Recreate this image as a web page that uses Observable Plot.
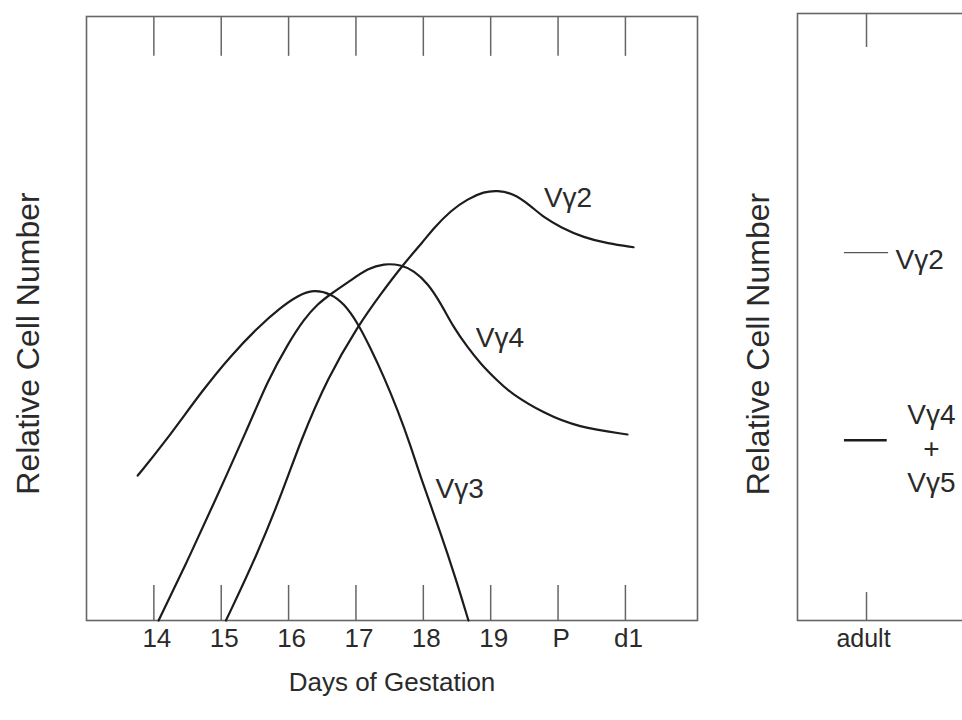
<!DOCTYPE html>
<html><head><meta charset="utf-8">
<script src="https://cdn.jsdelivr.net/npm/d3@7"></script>
<script src="https://cdn.jsdelivr.net/npm/@observablehq/plot@0.6"></script>
<style>
html,body{margin:0;padding:0;background:#fff;overflow:hidden;}
#wrap{position:relative;width:962px;height:720px;overflow:hidden;background:#fff;}
#left,#right{position:absolute;top:0;height:720px;}
#left{left:0;width:720px;}
#right{left:720px;width:400px;}
#wrap svg{max-width:none !important;}
</style></head>
<body><div id="wrap"><div id="left"></div><div id="right"></div></div>
<script>
// ---- data ----
const dayTicks = [14, 15, 16, 17, 18, 19, 20, 21];
const dayTickLabels = ["14", "15", "16", "17", "18", "19", "P", "d1"];

const vg3Day = [13.76, 14.15, 14.74, 15.14, 15.54, 15.88, 16.14, 16.37, 16.63, 16.82, 17.03, 17.22, 17.41, 17.62, 17.81, 17.96, 18.26, 18.48, 18.67];
const vg3Value = [24.0, 29.3, 38.4, 43.8, 48.5, 51.8, 53.8, 54.8, 54.1, 52.5, 49.2, 45.0, 40.5, 34.8, 29.0, 23.7, 14.4, 7.0, 0];

const vg4Day = [14.07, 14.50, 14.89, 15.40, 15.69, 15.99, 16.23, 16.43, 16.63, 16.92, 17.18, 17.41, 17.67, 17.86, 18.07, 18.26, 18.45, 18.66, 18.85, 19.10, 19.30, 19.79, 20.29, 21.03];
const vg4Value = [0, 9.9, 19.4, 32.0, 39.7, 45.8, 49.9, 52.4, 54.1, 56.3, 58.3, 59.1, 58.9, 57.9, 55.8, 52.5, 48.5, 45.2, 42.5, 39.7, 37.6, 34.3, 32.0, 30.8];

const vg2Day = [15.07, 15.53, 15.93, 16.18, 16.58, 17.03, 17.37, 17.69, 18.01, 18.15, 18.41, 18.66, 18.90, 19.10, 19.34, 19.59, 19.79, 20.04, 20.38, 20.74, 21.12];
const vg2Value = [0, 10.8, 21.9, 29.8, 40.2, 48.8, 54.1, 58.8, 62.9, 64.9, 67.9, 69.8, 71.0, 71.2, 70.7, 68.7, 66.7, 65.1, 63.4, 62.4, 61.8];

const curveNames = ["Vγ2", "Vγ4", "Vγ3"];
const curveLabelDay = [19.79, 18.78, 18.18];
const curveLabelValue = [69.9, 46.7, 21.7];

const adultCategories = ["adult"];
const adultNames = ["Vγ2", "Vγ4\n+\nVγ5"];
const adultValues = [60.6, 29.7];

const yTitle = "Relative Cell Number";
const xTitle = "Days of Gestation";

// ---- build tables ----
const rows = [];
[["Vγ2", vg2Day, vg2Value], ["Vγ4", vg4Day, vg4Value], ["Vγ3", vg3Day, vg3Value]].forEach(([name, xs, ys]) => {
  xs.forEach((d, i) => rows.push({series: name, day: d, value: ys[i]}));
});
const curveLabels = curveNames.map((n, i) => ({name: n, day: curveLabelDay[i], value: curveLabelValue[i]}));
const adultPos = adultCategories.map((c, i) => i + 1);

const FONT = "'Liberation Sans', Arial, Helvetica, sans-serif";
const INK = "#1c1c1c";
const AXIS = "#666";
const TEXT = "#2a2a2a";

const left = Plot.plot({
  width: 720, height: 720,
  marginLeft: 86, marginRight: 23, marginTop: 16, marginBottom: 100,
  style: {fontFamily: FONT, background: "transparent", color: TEXT, maxWidth: "none"},
  x: {domain: [13, 22.07], axis: null},
  y: {domain: [0, 100], axis: null},
  marks: [
    Plot.frame({stroke: AXIS, strokeWidth: 1.6}),
    Plot.ruleX(dayTicks, {x: d => d, y1: 0, y2: 5.8, stroke: AXIS, strokeWidth: 1.5}),
    Plot.ruleX(dayTicks, {x: d => d, y1: 100, y2: 93.4, stroke: AXIS, strokeWidth: 1.5}),
    Plot.text(dayTicks, {x: d => d, text: (d, i) => dayTickLabels[i], frameAnchor: "bottom", dy: 26, dx: 3, fontSize: 26, fill: TEXT}),
    Plot.line(rows, {x: "day", y: "value", z: "series", curve: "basis", stroke: INK, strokeWidth: 2.2}),
    Plot.text(curveLabels, {x: "day", y: "value", text: "name", textAnchor: "start", fontSize: 28, fill: TEXT}),
    Plot.text([xTitle], {frameAnchor: "bottom", textAnchor: "middle", dy: 70, fontSize: 26, fill: TEXT}),
    Plot.text([yTitle], {frameAnchor: "left", textAnchor: "middle", dx: -58, dy: 25, rotate: -90, fontSize: 32, fill: TEXT})
  ]
});
document.getElementById("left").appendChild(left);

const right = Plot.plot({
  width: 400, height: 720,
  marginLeft: 77, marginRight: 0, marginTop: 13, marginBottom: 100,
  style: {fontFamily: FONT, background: "transparent", color: TEXT, maxWidth: "none"},
  x: {domain: [0, 4.68], axis: null},
  y: {domain: [0, 100], axis: null},
  marks: [
    Plot.frame({stroke: AXIS, strokeWidth: 1.6}),
    Plot.ruleX(adultPos, {x: d => d, y1: 0, y2: 4.6, stroke: AXIS, strokeWidth: 1.5}),
    Plot.ruleX(adultPos, {x: d => d, y1: 100, y2: 94.4, stroke: AXIS, strokeWidth: 1.5}),
    Plot.text(adultPos, {x: d => d, text: (d, i) => adultCategories[i], frameAnchor: "bottom", dy: 26, dx: -3, fontSize: 25, fill: TEXT}),
    Plot.ruleY([adultValues[0]], {y: d => d, x1: adultPos[0] - 0.32, x2: adultPos[0] + 0.32, stroke: "#555", strokeWidth: 1.3}),
    Plot.ruleY([adultValues[1]], {y: d => d, x1: adultPos[0] - 0.32, x2: adultPos[0] + 0.30, stroke: INK, strokeWidth: 2.4}),
    Plot.text([adultNames[0]], {x: adultPos[0] + 0.42, y: adultValues[0], text: d => d, textAnchor: "start", dy: 7, fontSize: 28, fill: TEXT}),
    Plot.text([adultNames[1]], {x: adultPos[0] + 0.94, y: adultValues[1], text: d => d, textAnchor: "middle", dy: 7, lineHeight: 1.2, fontSize: 28, fill: TEXT}),
    Plot.text([yTitle], {frameAnchor: "left", textAnchor: "middle", dx: -39, dy: 27, rotate: -90, fontSize: 32, fill: TEXT})
  ]
});
document.getElementById("right").appendChild(right);
</script>
</body></html>
